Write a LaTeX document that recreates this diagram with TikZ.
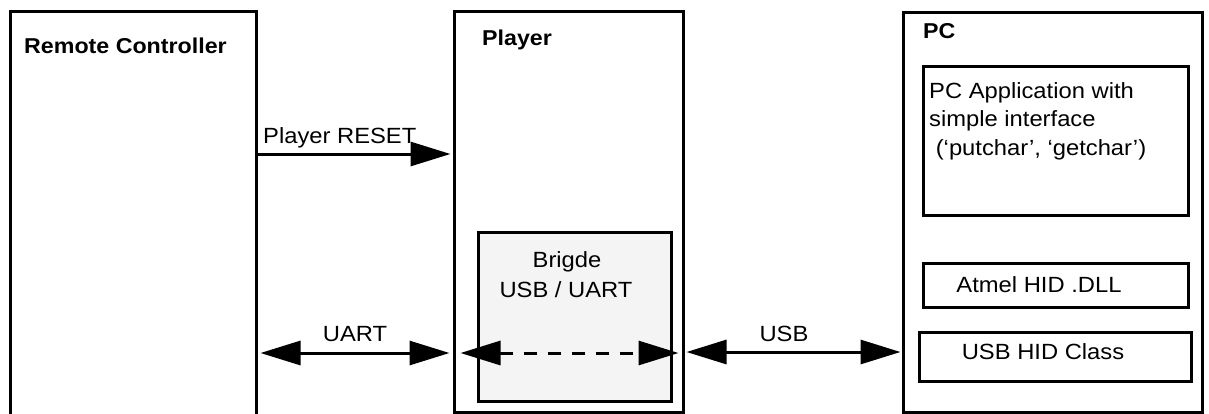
\documentclass[tikz,border=0pt]{standalone}
\usepackage{fontspec}
\setmainfont[FakeStretch=1.08]{Liberation Sans}
\usetikzlibrary{arrows.meta}
\definecolor{bridgefill}{HTML}{F4F4F4}
\begin{document}
\begin{tikzpicture}[x=1pt,y=-1pt,
  box/.style={draw=black,line width=3pt,rectangle,inner sep=0pt},
  lbl/.style={inner sep=0pt,font=\fontsize{22}{28.5}\selectfont},
  blbl/.style={inner sep=0pt,font=\fontsize{21.5}{27}\selectfont\bfseries},
  arr/.style={line width=3pt,-{Triangle[length=40pt,width=24pt]}},
  darr/.style={line width=3pt,{Triangle[length=40pt,width=24pt]}-{Triangle[length=40pt,width=24pt]}},
]
\useasboundingbox (0,0) rectangle (1209,413);
% outer boxes
\node[box,minimum width=246pt,minimum height=419pt] (remote) at (133,220.5) {};
\node[box,minimum width=229pt,minimum height=401pt] (player) at (568.5,211.5) {};
\node[box,minimum width=299pt,minimum height=400pt] (pc) at (1052.5,212) {};
% inner boxes
\node[box,fill=bridgefill,minimum width=193pt,minimum height=169pt] (bridge) at (574.5,316.5) {};
\node[box,minimum width=265pt,minimum height=149pt] (app) at (1055.5,140.5) {};
\node[box,minimum width=265pt,minimum height=44pt] (dll) at (1055.5,285) {};
\node[box,minimum width=272pt,minimum height=49pt] (hid) at (1055,356.5) {};
% titles
\node[blbl,anchor=west] (tremote) at (24,45.5) {Remote Controller};
\node[blbl,anchor=west] (tplayer) at (482,39.5) {Player};
\node[blbl,anchor=west] (tpc) at (923,31) {PC};
% inner texts
\node[lbl] (tbr1) at (567,262) {Brigde};
\node[lbl] (tbr2) at (566,290) {USB / UART};
\node[lbl,anchor=north west,align=left] (tapp) at (929,82) {PC Application with\\simple interface\\\ (‘putchar’, ‘getchar’)};
\node[lbl] (tdll) at (1039,285) {Atmel HID .DLL};
\node[lbl] (thid) at (1043,352) {USB HID Class};
% connectors
\draw[arr,shorten >=2pt] (remote.east |- 0,154) -- (player.west |- 0,154);
\node[lbl,anchor=base west] (treset) at (263,143) {Player RESET};
\draw[darr,shorten <=3pt,shorten >=3pt] (remote.east |- 0,353) -- (player.west |- 0,353);
\node[lbl] (tuart) at (355,334) {UART};
\draw[darr,dash pattern=on 13pt off 11pt,shorten <=8pt,shorten >=6pt] (player.west |- 0,353) -- (player.east |- 0,353);
\draw[darr,shorten <=2pt,shorten >=1pt] (player.east |- 0,352) -- (pc.west |- 0,352);
\node[lbl] (tusb) at (784,334) {USB};
\end{tikzpicture}
\end{document}
